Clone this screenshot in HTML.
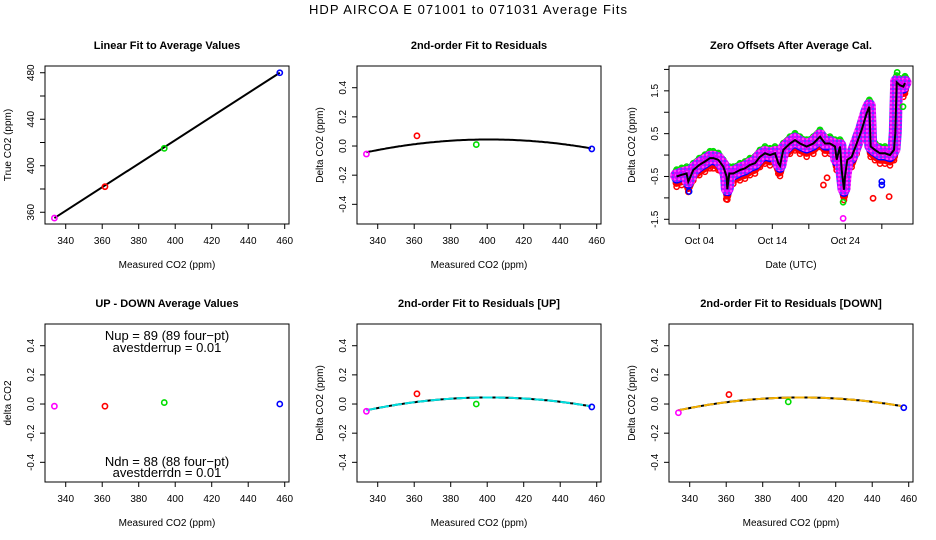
<!DOCTYPE html>
<html><head><meta charset="utf-8"><style>
body{margin:0;background:#fff;}
svg{display:block;font-family:"Liberation Sans",Arial,sans-serif;}
.tk{font-size:10px;fill:#000;}
.ttl{font-size:11px;font-weight:bold;}
.ax{font-size:10px;}
</style></head><body>
<svg id="c" width="936" height="540" viewBox="0 0 936 540" xmlns="http://www.w3.org/2000/svg">
<rect width="936" height="540" fill="#fff"/>
<text x="468" y="14" text-anchor="middle" font-size="13" textLength="318">HDP   AIRCOA E   071001 to 071031   Average Fits</text>
</svg>
<script>
// ---- data ----
const measured = [333.8, 361.5, 394.0, 457.3];
const trueVals = [355, 382, 415, 480];
const pointColors = ['#ff00ff', '#ff0000', '#00dd00', '#0000ff'];
const resid = [-0.055, 0.07, 0.01, -0.02];
const residUp = [-0.05, 0.07, 0.0, -0.02];
const residDn = [-0.06, 0.065, 0.015, -0.025];
const upDown = [-0.015, -0.015, 0.01, 0.0];
const fitQuad = [0.045, 401, -0.0000195]; // peak, vertex, curvature
const xTicks = [340, 360, 380, 400, 420, 440, 460];
const yTicks1 = [360, 380, 400, 420, 440, 460, 480];
const yLabels1 = [360, 400, 440, 480];
const yTicksD = [-0.4, -0.2, 0, 0.2, 0.4];
const yLabelsD = ['-0.4', '-0.2', '0.0', '0.2', '0.4'];
// zero offsets time series
const tsXz = [200,215,230,235,250,268,285,300,310,325,340,350,352,358,370,390,405,420,435,450,465,480,495,505,510,520,540,555,570,590,610,630,645,660,675,680,690,695,702,705,712,725,740,755,770,778,782,795,810,825,840,852,856,860,870,880,885];
const tsVal = [-0.5,-0.46,-0.43,-0.62,-0.35,-0.23,-0.15,-0.07,-0.07,-0.11,-0.27,-0.5,-0.8,-0.43,-0.43,-0.35,-0.31,-0.23,-0.19,-0.04,0.04,0.0,0.04,-0.19,-0.25,0.12,0.27,0.35,0.27,0.2,0.27,0.43,0.27,0.27,0.2,-0.11,0.2,-0.35,-0.81,-0.5,-0.11,-0.04,0.27,0.59,0.98,1.13,0.2,0.12,0.04,0.04,0.0,0.12,0.51,1.7,1.63,1.6,1.68];
const seriesNames = ['red','blue','green','magenta'];
const seriesOffsets = [-0.15, -0.05, 0.1, 0.02];
const seriesColors = ['#ff0000','#0000ff','#00dd00','#dd00ff'];
const seriesWidths = [8, 10, 9, 13];
const outT = [20.0,20.5,26.8,29.0,28.0,28.0,30.1,30.9,22.7,22.7,6.7,1.6];
const outV = [-0.7,-0.53,-1.01,-0.97,-0.62,-0.7,1.93,1.13,-1.48,-1.1,-1.03,-0.85];
const outC = ['#ff0000','#ff0000','#ff0000','#ff0000','#0000ff','#0000ff','#00dd00','#00dd00','#ff00ff','#00dd00','#ff0000','#0000ff'];
const dateTicks = [3, 8, 13, 18, 23, 28];
const dateLabels = ['Oct 04', '', 'Oct 14', '', 'Oct 24', ''];
const tsYTicks = [-1.5,-1,-0.5,0,0.5,1,1.5,2];
const tsYLabels = ['-1.5','','-0.5','','0.5','','1.5',''];

const svg = document.getElementById('c');
const NS = 'http://www.w3.org/2000/svg';
function mk(tag, attrs, parent) {
  const e = document.createElementNS(NS, tag);
  for (const k in attrs) e.setAttribute(k, attrs[k]);
  (parent || svg).appendChild(e);
  return e;
}
// hatch pattern for magenta band
const defs = mk('defs', {});
const pat = mk('pattern', {id: 'hatch', width: 4, height: 4, patternUnits: 'userSpaceOnUse'}, defs);
mk('rect', {width: 4, height: 4, fill: '#dd00ff'}, pat);
mk('rect', {width: 2, height: 2, fill: '#6040ff'}, pat);
mk('rect', {x: 2, y: 2, width: 2, height: 2, fill: '#ff40ff'}, pat);

function panel(col, row, xd, yd, name) {
  const x0 = 45 + 312 * col, y0 = 66 + 258 * row, w = 244, h = 158;
  const g = mk('g', {});
  
  
  const sx = v => x0 + (v - xd[0]) / (xd[1] - xd[0]) * w;
  const sy = v => y0 + h - (v - yd[0]) / (yd[1] - yd[0]) * h;
  const box = mk('rect', {x: x0, y: y0, width: w, height: h, fill: 'none', stroke: '#000', 'stroke-width': 1}, g);
  
  
  return {g, sx, sy, x0, y0, w, h};
}
function xAxis(p, ticks, labels, title) {
  ticks.forEach((t, i) => {
    const x = p.sx(t);
    mk('line', {x1: x, x2: x, y1: p.y0 + p.h, y2: p.y0 + p.h + 5, stroke: '#000'}, p.g);
    if (labels[i] !== '') {
      const tx = mk('text', {x: x, y: p.y0 + p.h + 20, 'text-anchor': 'middle', class: 'tk'}, p.g);
      tx.textContent = labels[i];
      
      
    }
  });
  const t = mk('text', {x: p.x0 + p.w / 2, y: p.y0 + p.h + 44, 'text-anchor': 'middle', class: 'ax'}, p.g);
  t.textContent = title;
  
  
}
function yAxis(p, ticks, labels, title) {
  ticks.forEach((t, i) => {
    const y = p.sy(t);
    mk('line', {x1: p.x0 - 5, x2: p.x0, y1: y, y2: y, stroke: '#000'}, p.g);
    if (labels[i] !== '') {
      const tx = mk('text', {x: 0, y: 0, 'text-anchor': 'middle', class: 'tk', transform: `translate(${p.x0 - 11},${y}) rotate(-90)`}, p.g);
      tx.textContent = labels[i];
      
      
    }
  });
  const t = mk('text', {x: 0, y: 0, 'text-anchor': 'middle', class: 'ax', transform: `translate(${p.x0 - 34},${p.y0 + p.h / 2}) rotate(-90)`}, p.g);
  t.textContent = title;
  
  
}
function title(p, s) {
  const t = mk('text', {x: p.x0 + p.w / 2, y: p.y0 - 17, 'text-anchor': 'middle', class: 'ttl'}, p.g);
  t.textContent = s;
  
  
}
function pts(p, xs, ys, cols) {
  xs.forEach((v, i) => {
    const c = mk('circle', {cx: p.sx(v), cy: p.sy(ys[i]), r: 2.6, fill: 'none', stroke: cols[i], 'stroke-width': 1.6}, p.g);
    
    
  });
}
function curve(p, color, width, dash) {
  let d = '';
  for (let v = measured[0]; v <= measured[3]; v += 1) {
    const y = fitQuad[0] + fitQuad[2] * (v - fitQuad[1]) * (v - fitQuad[1]);
    d += (d ? 'L' : 'M') + p.sx(v).toFixed(1) + ',' + p.sy(y).toFixed(1);
  }
  const el = mk('path', {d, fill: 'none', stroke: color, 'stroke-width': width}, p.g);
  if (dash) el.setAttribute('stroke-dasharray', dash);
  
  
}
const xdM = [328.65, 462.35];
const xl = xTicks.map(String);
const ydD = [-0.535, 0.549];

// Panel 1
let p = panel(0, 0, xdM, [349.9, 485.8], 'linear-fit-panel');
title(p, 'Linear Fit to Average Values');
xAxis(p, xTicks, xl, 'Measured CO2 (ppm)');
yAxis(p, yTicks1, yTicks1.map(v => yLabels1.includes(v) ? String(v) : ''), 'True CO2 (ppm)');
const fl = mk('line', {x1: p.sx(measured[0]), y1: p.sy(trueVals[0]), x2: p.sx(measured[3]), y2: p.sy(trueVals[3]), stroke: '#000', 'stroke-width': 2}, p.g);


pts(p, measured, trueVals, pointColors);

// Panel 2
p = panel(1, 0, xdM, ydD, 'residual-fit-panel');
title(p, '2nd-order Fit to Residuals');
xAxis(p, xTicks, xl, 'Measured CO2 (ppm)');
yAxis(p, yTicksD, yLabelsD, 'Delta CO2 (ppm)');
curve(p, '#000', 2);
pts(p, measured, resid, pointColors);

// Panel 3
p = panel(2, 0, [-1.15, 32.27], [-1.61, 2.08], 'zero-offsets-panel');
title(p, 'Zero Offsets After Average Cal.');
xAxis(p, dateTicks, dateLabels, 'Date (UTC)');
yAxis(p, tsYTicks, tsYLabels, 'Delta CO2 (ppm)');
const tsT = tsXz.map(z => 3 + (z - 268) / 21.9);
seriesOffsets.forEach((off, s) => {
  let d = '';
  tsT.forEach((t, i) => { d += (i ? 'L' : 'M') + p.sx(t).toFixed(1) + ',' + p.sy(tsVal[i] + off).toFixed(1); });
  const band = mk('path', {d, fill: 'none', stroke: s === 3 ? 'url(#hatch)' : seriesColors[s], 'stroke-width': seriesWidths[s], 'stroke-linejoin': 'round', 'stroke-linecap': 'round'}, p.g);
  
  
  tsT.forEach((t, i) => {
    const c = mk('circle', {cx: p.sx(t), cy: p.sy(tsVal[i] + off + (s === 3 ? 0 : off * 0.6)), r: 2.6, fill: 'none', stroke: seriesColors[s], 'stroke-width': 1.5}, p.g);
    
    
  });
});
let dl = '';
tsT.forEach((t, i) => { dl += (i ? 'L' : 'M') + p.sx(t).toFixed(1) + ',' + p.sy(tsVal[i]).toFixed(1); });
const ml = mk('path', {d: dl, fill: 'none', stroke: '#000', 'stroke-width': 2}, p.g);


pts(p, outT, outV, outC);

// Panel 4
p = panel(0, 1, xdM, ydD, 'up-down-panel');
title(p, 'UP - DOWN Average Values');
xAxis(p, xTicks, xl, 'Measured CO2 (ppm)');
yAxis(p, yTicksD, yLabelsD, 'delta CO2');
pts(p, measured, upDown, pointColors);
[['Nup = 89 (89 four\u2212pt)', 340], ['avestderrup =  0.01', 352], ['Ndn = 88 (88 four\u2212pt)', 466], ['avestderrdn =  0.01', 477]].forEach(a => {
  const t = mk('text', {x: 167, y: a[1], 'text-anchor': 'middle', 'font-size': 13}, p.g);
  t.textContent = a[0];
  
  
});

// Panel 5
p = panel(1, 1, xdM, ydD, 'up-residual-panel');
title(p, '2nd-order Fit to Residuals [UP]');
xAxis(p, xTicks, xl, 'Measured CO2 (ppm)');
yAxis(p, yTicksD, yLabelsD, 'Delta CO2 (ppm)');
curve(p, '#000', 2);
curve(p, '#00e0e0', 2, '10 3');
pts(p, measured, residUp, pointColors);

// Panel 6
p = panel(2, 1, xdM, ydD, 'down-residual-panel');
title(p, '2nd-order Fit to Residuals [DOWN]');
xAxis(p, xTicks, xl, 'Measured CO2 (ppm)');
yAxis(p, yTicksD, yLabelsD, 'Delta CO2 (ppm)');
curve(p, '#000', 2);
curve(p, '#f5b000', 2, '10 3');
pts(p, measured, residDn, pointColors);
</script>
</body></html>
